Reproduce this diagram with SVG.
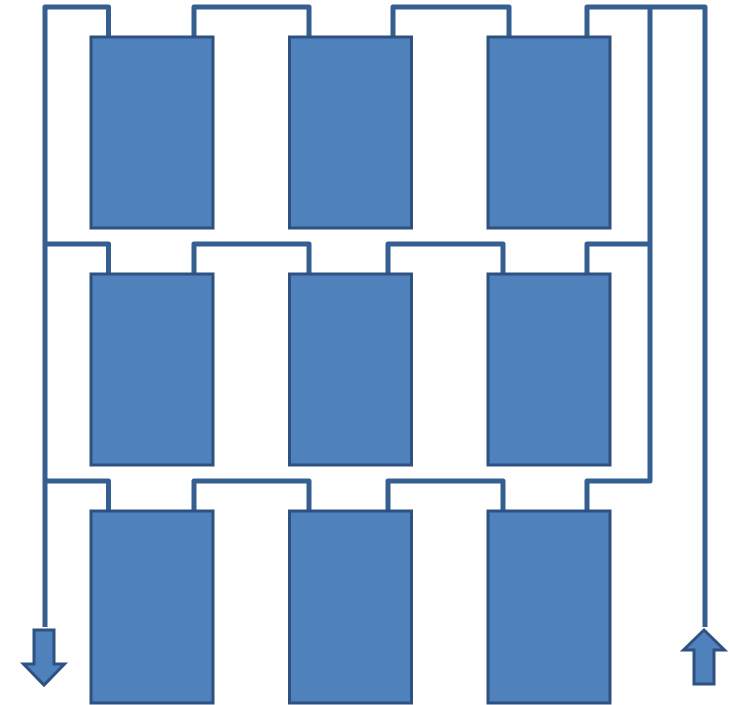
<svg xmlns="http://www.w3.org/2000/svg" width="730" height="705" viewBox="0 0 730 705">
<style>
.b{fill:#4f81bd;stroke:#2f5180;stroke-width:3}
.p{fill:none;stroke:#365f91;stroke-width:5;stroke-linejoin:round}
</style>
<rect width="730" height="705" fill="#fff"/>
<g id="connectors" class="p">
<path d="M108.500 37V7H45V627"/>
<path d="M194 37V7H309V37"/>
<path d="M393 37V7H509V37"/>
<path d="M587 37V7H705V627"/>
<path d="M650 7V244"/>
<path d="M45 244H108.500V274"/>
<path d="M194 274V244H309V274"/>
<path d="M388 274V244H503V274"/>
<path d="M587 274V244H650"/>
<path d="M650 244V481H587V511"/>
<path d="M45 481H108.500V511"/>
<path d="M194 511V481H309V511"/>
<path d="M388 511V481H503V511"/>
</g>
<g id="n1"><rect class="b" x="91" y="37" width="122" height="191"/></g>
<g id="n2"><rect class="b" x="289.500" y="37" width="122" height="191"/></g>
<g id="n3"><rect class="b" x="488" y="37" width="122" height="191"/></g>
<g id="n4"><rect class="b" x="91" y="274" width="122" height="191"/></g>
<g id="n5"><rect class="b" x="289.500" y="274" width="122" height="191"/></g>
<g id="n6"><rect class="b" x="488" y="274" width="122" height="191"/></g>
<g id="n7"><rect class="b" x="91" y="511" width="122" height="192"/></g>
<g id="n8"><rect class="b" x="289.500" y="511" width="122" height="192"/></g>
<g id="n9"><rect class="b" x="488" y="511" width="122" height="192"/></g>
<g id="arrow-down"><polygon class="b" points="34,630 54,630 54,664 64.500,664 44,685 23.500,664 34,664"/></g>
<g id="arrow-up"><polygon class="b" points="704,630 724.500,650 714,650 714,684 694,684 694,650 683.500,650"/></g>
</svg>
